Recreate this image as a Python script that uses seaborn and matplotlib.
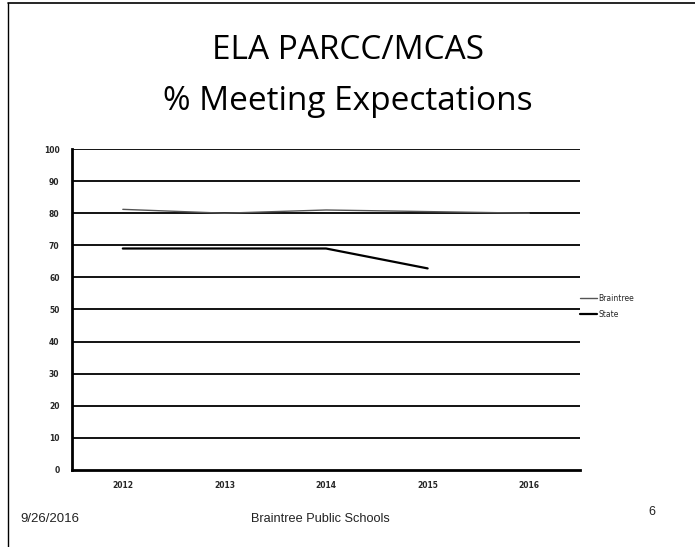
import numpy as np
import pandas as pd
import matplotlib
matplotlib.use("Agg")
import matplotlib.pyplot as plt
import seaborn as sns
from matplotlib.lines import Line2D

years = ["2012", "2013", "2014", "2015", "2016"]
braintree = [81.2, 80.0, 81.0, 80.5, 80.0]
state = [69.0, 69.0, 69.0, 62.8, np.nan]
y_ticks = [0, 10, 20, 30, 40, 50, 60, 70, 80, 90, 100]

df = pd.DataFrame({
    "Year": years * 2,
    "Value": braintree + state,
    "Series": ["Braintree"] * len(years) + ["State"] * len(years),
})

sns.set_style("white")
plt.rcParams["font.family"] = ["DejaVu Sans"]

fig = plt.figure(figsize=(6.95, 5.47), dpi=100)
ax = fig.add_axes([0.1036, 0.1408, 0.731, 0.5868])

# lineas de cuadricula horizontales negras
for v in y_ticks[1:]:
    ax.axhline(v, color="black", lw=1.3, zorder=1)

sns.lineplot(data=df, x="Year", y="Value", hue="Series",
             palette={"Braintree": "#555555", "State": "black"},
             ax=ax, legend=False, zorder=3)
ax.lines[-2].set_linewidth(1.0)
ax.lines[-1].set_linewidth(1.6)

ax.set_xlim(-0.5, 4.5)
ax.set_ylim(0, 100)
ax.set_yticks(y_ticks)
ax.set_yticklabels([str(t) for t in y_ticks], fontsize=5.5, fontweight="bold")
ax.set_xticks(range(len(years)))
ax.set_xticklabels(years, fontsize=5.5, fontweight="bold")
ax.set_xticks(np.arange(-0.5, 5.0, 1.0), minor=True)
ax.tick_params(axis="x", which="major", length=0, pad=8)
ax.tick_params(axis="x", which="minor", length=3, width=1.2, direction="out")
ax.tick_params(axis="y", length=3, width=1.2, direction="out", pad=6)
ax.set_xlabel("")
ax.set_ylabel("")

for side in ["top", "right"]:
    ax.spines[side].set_visible(False)
ax.spines["left"].set_linewidth(2.0)
ax.spines["bottom"].set_linewidth(2.0)
ax.spines["left"].set_color("black")
ax.spines["bottom"].set_color("black")

handles = [Line2D([], [], color="#555555", lw=1.0),
           Line2D([], [], color="black", lw=1.6)]
fig.legend(handles, ["Braintree", "State"], loc="center left",
           bbox_to_anchor=(0.825, 0.44), frameon=False, fontsize=5.5,
           handlelength=2.2, handletextpad=0.2, labelspacing=0.9)

# titulo de la diapositiva
fig.text(0.5, 0.908, "ELA PARCC/MCAS", ha="center", va="center",
         fontsize=24, family="Open Sans", color="black")
fig.text(0.5, 0.814, "% Meeting Expectations", ha="center", va="center",
         fontsize=24, family="Open Sans", color="black")

# pie de pagina
fig.text(0.029, 0.051, "9/26/2016", ha="left", va="center", fontsize=9.5,
         family="Liberation Sans", color="#222222")
fig.text(0.461, 0.051, "Braintree Public Schools", ha="center", va="center",
         fontsize=9.2, family="Liberation Sans", color="#222222")
fig.text(0.938, 0.064, "6", ha="center", va="center", fontsize=9,
         family="Liberation Sans", color="#222222")

# marco de la diapositiva
fig.add_artist(Line2D([0.012, 0.012], [0.0, 0.995], color="black", lw=1.0,
                      transform=fig.transFigure))
fig.add_artist(Line2D([0.012, 1.0], [0.995, 0.995], color="black", lw=1.2,
                      transform=fig.transFigure))

fig.savefig("out.png", dpi=100)
